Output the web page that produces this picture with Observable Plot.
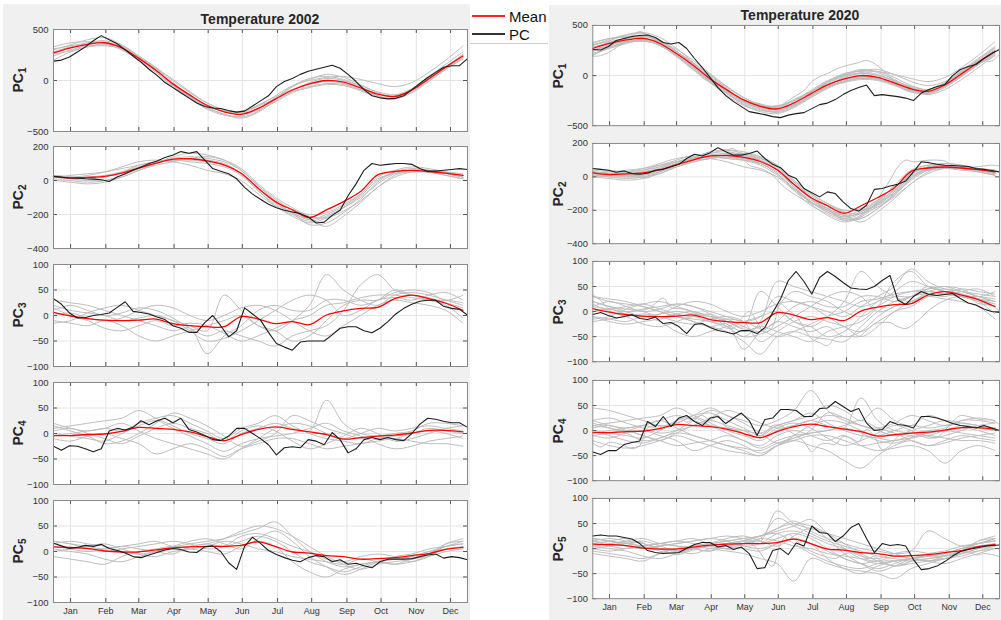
<!DOCTYPE html>
<html>
<head>
<meta charset="utf-8">
<script src="https://cdn.jsdelivr.net/npm/d3@7"></script>
<script src="https://cdn.jsdelivr.net/npm/@observablehq/plot@0.6"></script>
<style>
  html, body { margin: 0; padding: 0; background: #fff; overflow: hidden; }
  #fig { position: relative; width: 1001px; height: 620px; overflow: hidden;
         font-family: "Liberation Sans", Arial, Helvetica, sans-serif; color: #262626; }
  .bg { position: absolute; background: #f0f0f0; }
  .panel { position: absolute; }
  .ylab { position: absolute; transform: translate(-50%, -50%) rotate(-90deg);
          font-weight: bold; font-size: 14px; white-space: nowrap; line-height: 14px; }
  .ylab sub { font-size: 10px; vertical-align: -3px; line-height: 0; }
  .title { position: absolute; transform: translate(-50%, -50%);
           font-weight: bold; font-size: 14px; white-space: nowrap; }
  .legtext { position: absolute; font-size: 15px; transform: translateY(-50%); white-space: nowrap; color: #111; }
  .legline { position: absolute; height: 2px; width: 33px; }
</style>
</head>
<body>
<div id="fig"></div>
<script>
// Day-of-year sample positions
const sampleDays = [1, 16, 31, 46, 61, 76, 91, 106, 121, 136, 151, 166, 181, 196, 211, 226, 241, 256, 271, 286, 301, 316, 331, 346, 361];
const weekDays = [1, 8, 15, 22, 29, 36, 43, 50, 57, 64, 71, 78, 85, 92, 99, 106, 113, 120, 127, 134, 141, 148, 155, 162, 169, 176, 183, 190, 197, 204, 211, 218, 225, 232, 239, 246, 253, 260, 267, 274, 281, 288, 295, 302, 309, 316, 323, 330, 337, 344, 351, 358, 365];

// Month ticks (mid-month) and their labels
const monthTicks = [16, 47, 76, 107, 137, 167, 198, 228, 259, 289, 320, 350];
const monthNames = ["Jan", "Feb", "Mar", "Apr", "May", "Jun", "Jul", "Aug", "Sep", "Oct", "Nov", "Dec"];

// Y tick values per component
const ticksPC1 = [-500, 0, 500];
const ticksPC2 = [-400, -200, 0, 200];
const ticksPC345 = [-100, -50, 0, 50, 100];

// ---------- PC1 ----------
const pc1Mean = [270, 320, 355, 370, 320, 217, 100, -33, -143, -243, -307, -333, -273, -183, -93, -33, 0, -17, -73, -133, -157, -93, 17, 133, 240];
const pc1Early = [
  [300, 350, 400, 420, 350, 240, 120, -20, -150, -260, -330, -360, -300, -190, -60, 20, 40, 10, -50, -110, -140, -80, 40, 160, 280],
  [240, 300, 340, 350, 330, 230, 110, -40, -160, -250, -300, -320, -250, -150, -50, 0, 30, 40, 10, -30, -60, -20, 80, 200, 340],
  [330, 370, 380, 360, 300, 200, 80, -60, -170, -270, -330, -370, -310, -200, -110, -60, -30, -40, -90, -150, -180, -110, 0, 110, 220],
  [200, 280, 330, 360, 340, 240, 130, 0, -120, -220, -290, -320, -290, -210, -120, -70, -40, -50, -100, -160, -170, -100, 10, 120, 230],
  [280, 330, 360, 380, 310, 190, 60, -70, -180, -280, -340, -350, -280, -170, -60, 10, 60, 30, -40, -120, -160, -90, 30, 140, 250],
  [260, 290, 330, 340, 310, 220, 120, 10, -110, -220, -290, -310, -240, -160, -90, -40, -10, -30, -90, -150, -180, -120, -10, 110, 210],
  [310, 340, 370, 390, 340, 230, 90, -50, -160, -250, -300, -300, -250, -180, -100, -20, 20, 0, -60, -130, -150, -90, 20, 130, 260]
];
const pc1Later = [
  [220, 280, 330, 360, 340, 260, 150, 20, -110, -220, -300, -340, -300, -220, -130, -60, -20, -30, -80, -140, -170, -110, -10, 110, 200],
  [300, 360, 410, 430, 380, 270, 130, -10, -130, -250, -320, -340, -270, -170, -70, 0, 50, 40, -20, -100, -140, -70, 40, 150, 270],
  [250, 310, 340, 350, 300, 200, 80, -60, -180, -290, -360, -380, -320, -220, -120, -60, -30, -40, -90, -150, -170, -100, 0, 120, 230],
  [280, 330, 370, 390, 350, 240, 110, -30, -140, -240, -310, -330, -250, -160, -60, 10, 50, 60, 10, -60, -100, -60, 50, 170, 290],
  [210, 270, 320, 350, 300, 190, 70, -70, -200, -300, -350, -360, -290, -200, -110, -50, -10, -20, -80, -150, -190, -140, -40, 80, 200],
  [320, 370, 390, 400, 330, 220, 100, -40, -150, -250, -310, -310, -250, -160, -80, -10, 20, 0, -50, -120, -150, -80, 30, 140, 250]
];
const pc1Y2002 = [190, 200, 230, 280, 330, 390, 440, 400, 360, 300, 240, 180, 110, 50, -20, -70, -120, -170, -220, -255, -270, -275, -295, -310, -300, -250, -200, -150, -60, -10, 20, 60, 90, 110, 130, 150, 120, 60, -10, -90, -150, -170, -180, -175, -150, -90, -30, 30, 80, 130, 145, 145, 215];
const pc1Y2020 = [260, 255, 290, 350, 370, 390, 400, 405, 380, 330, 315, 330, 270, 170, 80, -20, -120, -200, -260, -310, -360, -375, -390, -410, -420, -395, -380, -370, -330, -290, -275, -240, -190, -150, -120, -95, -200, -190, -200, -210, -225, -250, -175, -140, -110, -90, 0, 60, 90, 110, 170, 220, 260];

// ---------- PC2 ----------
const pc2Mean = [24, 14, 18, 24, 43, 73, 102, 126, 128, 116, 92, 43, -45, -124, -173, -218, -173, -124, -65, 33, 53, 59, 53, 43, 30];
const pc2Early = [
  [30, 20, 10, 20, 50, 90, 110, 120, 110, 100, 80, 30, -60, -150, -210, -250, -220, -160, -90, 0, 50, 60, 50, 30, 10],
  [10, 0, -10, 0, 30, 70, 100, 130, 140, 130, 110, 60, -30, -110, -170, -200, -190, -140, -80, 10, 40, 50, 50, 40, 20],
  [30, 20, 30, 50, 80, 110, 120, 110, 90, 60, 40, 0, -80, -150, -200, -240, -210, -160, -100, -20, 40, 60, 60, 50, 30],
  [20, 10, 0, 0, 20, 60, 100, 140, 160, 150, 120, 60, -30, -120, -190, -230, -270, -210, -130, -40, 20, 50, 50, 30, 10],
  [20, 30, 40, 50, 70, 90, 110, 120, 130, 120, 100, 40, -50, -130, -190, -230, -200, -150, -80, 20, 60, 80, 70, 50, 20],
  [0, -10, -20, -10, 20, 60, 90, 110, 130, 140, 120, 70, -20, -100, -160, -210, -220, -180, -120, -40, 30, 60, 60, 40, 20],
  [30, 20, 20, 30, 50, 80, 100, 120, 120, 110, 90, 40, -60, -140, -190, -260, -250, -190, -110, -10, 50, 70, 60, 50, 40]
];
const pc2Later = [
  [40, 30, 20, 30, 60, 90, 120, 140, 150, 130, 100, 40, -60, -160, -230, -270, -240, -170, -90, 20, 60, 70, 60, 50, 40],
  [10, 0, 0, 10, 40, 80, 110, 120, 110, 100, 80, 20, -70, -150, -200, -230, -220, -160, -70, 30, 70, 80, 70, 50, 30],
  [50, 40, 30, 40, 60, 90, 100, 110, 120, 110, 80, 20, -80, -170, -220, -260, -230, -150, -50, 40, 70, 60, 50, 40, 20],
  [0, 10, 10, 20, 40, 60, 90, 110, 120, 120, 110, 70, -20, -100, -160, -200, -200, -170, -110, -10, 40, 50, 40, 30, 10],
  [30, 20, 10, 10, 30, 70, 110, 150, 160, 140, 110, 50, -40, -130, -200, -240, -210, -140, -60, 20, 50, 60, 50, 40, 30],
  [20, 10, 20, 40, 70, 100, 130, 130, 120, 100, 70, 10, -70, -150, -210, -250, -250, -190, -100, 0, 50, 60, 60, 40, 20]
];
const pc2Y2002 = [24, 20, 15, 14, 10, 8, 4, -6, 20, 40, 60, 80, 100, 115, 135, 150, 170, 160, 170, 120, 70, 55, 40, 10, -40, -80, -110, -140, -160, -175, -185, -195, -215, -250, -245, -205, -175, -90, -20, 60, 100, 90, 95, 100, 100, 95, 70, 55, 55, 60, 65, 70, 65];
const pc2Y2020 = [50, 45, 40, 28, 35, 20, 16, 22, 40, 45, 60, 75, 110, 135, 125, 145, 175, 150, 130, 130, 140, 155, 110, 75, 55, 10, -10, -70, -95, -120, -90, -100, -150, -190, -205, -170, -75, -70, -55, -45, -25, 30, 90, 85, 75, 70, 68, 65, 62, 50, 45, 38, 30];

// ---------- PC3 ----------
const pc3Mean = [6, -1, -6, -9, -10, -9, -7, -16, -20, -22, -22, -2, -7, -16, -12, -18, 1, 9, 14, 16, 33, 40, 33, 24, 10];
const pc3Early = [
  [20, 10, 5, 0, -10, -5, 0, -10, -20, -30, 40, 10, -20, -30, -10, 20, 80, 50, 30, 20, 40, 45, 40, 30, 20],
  [10, 20, 10, 0, 5, 15, 10, -5, -25, -40, -30, -40, -50, -60, -40, -30, -20, 10, 60, 80, 50, 40, 35, 25, 15],
  [-10, -15, -20, -10, -20, -40, -50, -40, -30, -20, -10, 0, -20, -30, -50, -40, -10, 20, 30, 30, 45, 50, 45, 30, 40],
  [30, 25, 20, 10, 0, -10, -20, -30, -25, -75, -40, -20, 10, 20, 10, 10, 30, 30, 20, 30, 50, 40, 30, 20, -5],
  [0, 5, -5, -10, -5, 10, 20, 15, 0, -10, 0, 15, 20, 10, -10, -30, -40, -20, 0, 20, 30, 25, 20, 10, -15],
  [15, 0, -10, -25, -30, -20, -10, -20, -15, -20, -35, -50, -40, -25, -10, 0, 20, 25, 35, 40, 40, 35, 30, 30, 25],
  [-15, -10, 5, 15, 20, 10, 0, -10, -30, -50, -45, -30, -10, 10, 30, 40, 30, 0, 10, 30, 35, 30, 40, 45, 30]
];
const pc3Later = [
  [30, 20, 15, 10, 0, -10, -15, -20, -30, -50, -20, 60, 50, 40, 30, 20, 10, 20, 40, 60, 50, 40, 30, 25, 20],
  [-10, -20, -25, -20, -15, -10, -20, -30, -40, -60, -85, -50, -40, -50, -55, -60, -30, 0, 20, 30, 40, 35, 30, 20, 10],
  [10, 5, 0, 5, 10, 15, 10, 0, -10, -20, -10, 30, 20, 10, 0, -10, 10, 30, 50, 85, 60, 45, 40, 35, 30],
  [20, 10, 0, -10, -5, 0, -5, -10, -15, -30, -40, -20, -30, -40, -30, -50, -40, -10, 10, 20, 35, 40, 35, 25, 15],
  [0, 5, 10, 15, 5, -5, -10, -5, -20, -35, -30, 10, 40, 30, 20, 0, -10, 10, 30, 40, 45, 50, 40, 30, 20],
  [-20, -15, -10, -5, -10, -20, -25, -15, -10, -20, -60, -40, -20, -10, -20, -30, -50, -30, 0, 10, 30, 35, 45, 40, 35]
];
const pc3Y2002 = [33, 22, 5, -5, -4, 0, 2, 5, 16, 27, 8, 6, 3, -3, -8, -20, -25, -33, -33, -14, 0, -20, -42, -30, 15, 3, -9, -33, -55, -62, -68, -52, -50, -50, -50, -38, -25, -22, -22, -30, -34, -25, -12, 3, 14, 22, 28, 30, 30, 18, 14, 12, 1];
const pc3Y2020 = [-6, -2, -8, -13, -10, -6, -14, -16, -11, -24, -22, -30, -44, -26, -24, -32, -38, -41, -45, -38, -38, -44, -32, -2, 25, 62, 80, 60, 35, 68, 80, 70, 58, 47, 45, 44, 50, 62, 72, 23, 14, 30, 40, 34, 32, 34, 36, 26, 17, 13, 5, 0, -2];

// ---------- PC4 ----------
const pc4Mean = [-4, -4, -2, -1, 4, 12, 10, 8, 3, -6, -14, -2, 8, 13, 8, 3, -2, -11, -8, -5, -3, 1, 6, 6, 3];
const pc4Early = [
  [10, 15, 20, 25, 30, 45, 30, 15, 0, -10, -20, 0, 10, 20, 10, 5, 65, 20, 0, -5, -10, 0, 5, 0, -10],
  [-10, -15, -5, 0, -10, -20, -40, -30, -20, -30, -45, -30, -20, -10, -10, -20, -30, -25, -20, -15, -10, -15, -20, -20, -25],
  [20, 10, 5, 10, 5, 20, 30, 35, 20, 5, -10, 10, 20, 35, 15, 0, -10, -15, -20, -10, -5, 0, 10, 5, 0],
  [0, -5, -10, -15, 0, 15, 25, 10, -5, -20, -35, -20, -10, -5, 0, 10, 20, 5, -5, -20, -30, -25, -15, -10, -5],
  [-5, 0, 5, 10, 20, 5, -10, -20, -30, -40, -50, -30, -10, 10, 20, 15, 0, -10, 0, 10, 5, 10, 15, 10, 5],
  [5, 10, 0, -10, -20, -5, 10, 20, 10, 0, -15, 5, 15, 5, -15, -30, -20, -5, 10, 0, -15, -10, 0, 10, 15],
  [15, 5, -5, -20, -15, 0, 20, 40, 30, 15, -5, -25, -15, 0, 35, 25, 10, 0, -10, -5, 0, 5, 20, 20, 15]
];
const pc4Later = [
  [45, 40, 30, 20, 10, 15, 30, 45, 30, 20, 10, 20, 40, 80, 40, 20, 10, 0, -10, 0, 10, 20, 15, 10, 5],
  [-20, -30, -35, -30, -20, -10, -20, -30, -40, -45, -50, -30, -20, -30, -40, -60, -75, -50, -30, -20, -30, -20, -10, -15, -20],
  [10, 5, 0, 10, 20, 30, 20, 10, 5, 0, -5, 10, 20, 30, 50, 40, 20, 45, 20, 10, 30, 20, 10, 5, 0],
  [-10, -5, 0, -10, -20, -30, -25, -20, -10, -20, -30, -10, 0, -10, -20, -10, -30, -40, -35, -30, -40, -65, -40, -30, -40],
  [20, 25, 15, 5, -5, 0, 10, 25, 40, 30, 15, 5, 10, 20, 30, 25, 10, 5, 15, 30, 20, 10, 20, 25, 20],
  [0, -10, -20, -25, -15, -5, -10, -20, -30, -35, -40, -25, -15, -5, 0, 5, -5, -20, -25, -15, -5, 0, -5, -10, -15]
];
const pc4Y2002 = [-25, -33, -24, -25, -30, -36, -30, 5, 10, 7, 12, 25, 17, 25, 30, 21, 30, 8, 3, -4, -12, -14, -5, 10, 10, 0, -10, -22, -42, -28, -26, -28, -12, -15, -22, 2, -12, -38, -30, -12, -8, -12, -8, -12, -14, 0, 18, 30, 28, 24, 21, 21, 12];
const pc4Y2020 = [-43, -48, -40, -40, -28, -24, -21, 18, 8, 28, 8, 25, 30, 18, 10, 25, 28, 14, 25, 35, 20, -10, 22, 25, 42, 42, 40, 28, 28, 44, 45, 58, 48, 38, 44, 15, 0, 2, 18, 12, 10, 5, 28, 28, 25, 20, 14, 10, 8, 5, 10, 5, 0];

// ---------- PC5 ----------
const pc5Mean = [9, 8, 6, 1, -1, -1, 3, 7, 9, 10, 10, 12, 19, 10, -1, -3, -8, -10, -15, -14, -12, -8, -4, 4, 8];
const pc5Early = [
  [20, 15, 10, 5, 10, 15, 20, 10, 15, 20, 25, 35, 45, 58, 30, 0, -20, -30, -25, -20, -15, -10, 0, 10, 20],
  [-10, -15, -20, -25, -10, 0, 5, 10, 5, 0, -5, 10, 20, 10, -20, -40, -50, -35, -25, -20, -15, -10, 0, 5, 10],
  [10, 5, 0, 5, 10, 5, 0, -5, 10, 15, 25, 40, 50, 45, 30, 10, -10, -25, -35, -25, -20, -15, -5, 10, 15],
  [15, 20, 15, 10, 0, -5, 0, 5, 10, 15, 10, 20, 30, 20, 0, -20, -30, -40, -30, -20, -25, -15, -10, 0, 5],
  [0, 5, 10, 15, 5, -5, -10, 0, 5, 10, 20, 15, 5, 0, -10, -15, -20, -25, -15, -20, -25, -20, -10, 15, 20],
  [5, 0, -5, -15, -20, -10, 0, 10, 20, 25, 15, 5, 25, 40, 20, -10, -30, -45, -35, -20, -10, -5, 5, 10, 15],
  [20, 15, 5, 0, 5, 10, 15, 20, 15, 5, 10, 30, 35, 25, 10, 0, -15, -20, -10, -5, -10, -20, -5, 15, 25]
];
const pc5Later = [
  [15, 10, 5, 0, 5, 10, 15, 20, 25, 20, 15, 75, 50, 40, 30, 20, 10, 0, -10, -20, -15, -10, 0, 10, 15],
  [-5, -10, -15, -20, -10, 0, 5, 0, -5, -10, -20, -30, -65, -20, -30, -40, -45, -50, -60, -40, -30, -20, -10, -5, 0],
  [10, 15, 20, 10, 0, -5, 5, 10, 15, 20, 25, 40, 55, 35, 20, 10, 0, -5, -10, -5, 35, 20, 5, 10, 20],
  [20, 15, 10, 5, -5, -10, 0, 5, 10, 5, 0, 10, 20, 10, -5, -20, -30, -25, -35, -30, -25, -20, -15, -5, 5],
  [0, -5, 0, 5, 10, 15, 10, 5, 0, 10, 20, 60, 45, 30, 15, 5, -5, -15, -20, -25, -20, -15, -10, 0, 10],
  [5, 10, 15, 20, 10, 5, 0, -5, 5, 15, 25, 30, 10, -10, -25, -35, -40, -30, -25, -20, -25, -30, -20, -10, 0]
];
const pc5Y2002 = [16, 11, 6, 8, 12, 10, 14, 6, 2, -3, -10, -12, -7, -2, 3, 6, 4, -1, -2, 9, 11, 0, -22, -35, 10, 28, 16, 2, -6, -12, -17, -20, -12, -8, -10, -20, -16, -25, -23, -28, -32, -20, -15, -15, -15, -14, -10, -7, -5, -13, -10, -12, -16];
const pc5Y2020 = [25, 27, 25, 25, 22, 19, 10, -4, -8, -10, -9, -8, 0, 8, 12, 12, 3, 6, -2, 3, -10, -40, -38, -4, 0, -12, 11, 5, 45, 32, 30, 14, 25, 42, 50, 20, -8, 10, 6, 8, 5, -22, -42, -40, -35, -26, -15, -6, -2, 1, 4, 6, 7];

// ---------- assemble ----------
const means = [pc1Mean, pc2Mean, pc3Mean, pc4Mean, pc5Mean];
const early = [pc1Early, pc2Early, pc3Early, pc4Early, pc5Early];
const later = [pc1Later, pc2Later, pc3Later, pc4Later, pc5Later];
const y2002 = [pc1Y2002, pc2Y2002, pc3Y2002, pc4Y2002, pc5Y2002];
const y2020 = [pc1Y2020, pc2Y2020, pc3Y2020, pc4Y2020, pc5Y2020];
const yTicks = [ticksPC1, ticksPC2, ticksPC345, ticksPC345, ticksPC345];

const fig = document.getElementById("fig");
function addDiv(cls, css, html) {
  const d = document.createElement("div");
  if (cls) d.className = cls;
  d.style.cssText = css;
  if (html != null) d.innerHTML = html;
  fig.appendChild(d);
  return d;
}

// figure backgrounds
addDiv("bg", "left:3px;top:4px;width:467px;height:616px;");
addDiv("bg", "left:549px;top:5px;width:452px;height:615px;");

// plot geometry (pixels)
const W = 414, H = 102, ML = 40, MR = 2, MT = 2;
const FONT = '"Liberation Sans", Arial, Helvetica, sans-serif';

function toRows(vals, id) {
  const days = vals.length === weekDays.length ? weekDays : sampleDays;
  return vals.map((v, i) => ({day: days[i], v, id}));
}

function panel(k, grays, pcLine, last) {
  const MB = last ? 22 : 2;
  const yt = yTicks[k];
  const grayRows = grays.flatMap((vals, j) => toRows(vals, j));
  const marks = [
    Plot.frame({fill: "white", stroke: null}),
    Plot.ruleX(monthTicks, {x: d => d, stroke: "#e4e4e4"}),
    Plot.ruleY(yt, {y: d => d, stroke: "#e4e4e4"}),
    Plot.line(grayRows, {x: "day", y: "v", z: "id", stroke: "#bdbdbd", strokeWidth: 1, curve: "catmull-rom"}),
    Plot.line(toRows(means[k], "mean"), {x: "day", y: "v", stroke: "#ff0000", strokeWidth: 1.3, curve: "catmull-rom"}),
    Plot.line(toRows(pcLine, "pc"), {x: "day", y: "v", stroke: "#1c1c1c", strokeWidth: 1.1}),
    Plot.tickX(monthTicks, {x: d => d, insetBottom: H - 4, stroke: "#555"}),
    Plot.tickX(monthTicks, {x: d => d, insetTop: H - 4, stroke: "#555"}),
    Plot.tickY(yt, {y: d => d, insetRight: W - 4, stroke: "#555"}),
    Plot.tickY(yt, {y: d => d, insetLeft: W - 4, stroke: "#555"}),
    Plot.frame({stroke: "#8a8a8a"}),
    Plot.axisY(yt, {tickSize: 0, tickPadding: 5, fontSize: 9.5, label: null, fill: "#333"})
  ];
  if (last) {
    marks.push(Plot.axisX(monthTicks, {tickSize: 0, tickPadding: 5, fontSize: 9, label: null, fill: "#333",
      tickFormat: d => monthNames[monthTicks.indexOf(d)]}));
  }
  return Plot.plot({
    width: ML + W + MR, height: MT + H + MB,
    marginLeft: ML, marginRight: MR, marginTop: MT, marginBottom: MB,
    style: {background: "transparent", overflow: "visible", fontFamily: FONT, color: "#333"},
    x: {domain: [1, 365], axis: last ? undefined : null},
    y: {domain: k === 0 ? [-500, 500] : k === 1 ? [-400, 200] : [-100, 100]},
    marks
  });
}

const columns = [
  {year: 2002, left: 53, tops: [29, 146, 264, 382, 500], titleY: 19, labelX: 18,
   lines: y2002, grays: k => early[k]},
  {year: 2020, left: 593, tops: [25, 143, 261, 380, 498], titleY: 15, labelX: 558,
   lines: y2020, grays: k => [...early[k], ...later[k], y2002[k]]}
];

for (const col of columns) {
  addDiv("title", `left:${col.left + W / 2}px;top:${col.titleY}px;`, `Temperature ${col.year}`);
  for (let k = 0; k < 5; k++) {
    const top = col.tops[k];
    const svg = panel(k, col.grays(k), col.lines[k], k === 4);
    const holder = addDiv("panel", `left:${col.left - ML}px;top:${top - MT}px;`);
    holder.appendChild(svg);
    addDiv("ylab", `left:${col.labelX}px;top:${top + H / 2}px;`, `PC<sub>${k + 1}</sub>`);
  }
}

// legend
addDiv("", "position:absolute;left:470px;top:0px;width:78px;height:43px;background:#fff;border-bottom:1px solid #cfcfcf;");
addDiv("legline", "left:472px;top:15px;background:#ff2020;");
addDiv("legline", "left:472px;top:33px;background:#333333;");
addDiv("legtext", "left:509px;top:16px;", "Mean");
addDiv("legtext", "left:509px;top:34px;", "PC");
</script>
</body>
</html>
